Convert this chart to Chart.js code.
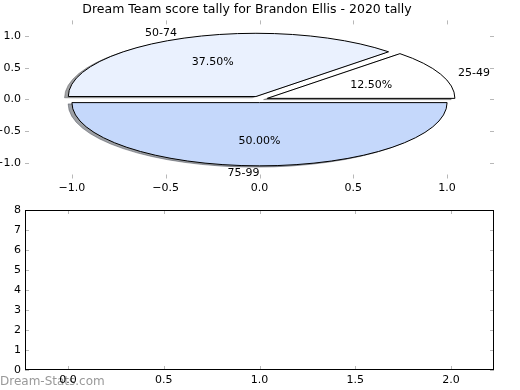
<!DOCTYPE html>
<html>
<head>
<meta charset="utf-8">
<script src="https://cdn.jsdelivr.net/npm/chart.js@4.4.0/dist/chart.umd.min.js"></script>
<style>
  html, body { margin: 0; padding: 0; background: #fff; }
  #wrap { position: relative; width: 520px; height: 390px; }
  #pieBox { position: absolute; left: 0; top: 0; width: 520px; height: 196px; }
  #emptyBox { position: absolute; left: 0; top: 196px; width: 520px; height: 194px; }
</style>
</head>
<body>
<div id="wrap">
  <div id="pieBox"><canvas id="pieChart"></canvas></div>
  <div id="emptyBox"><canvas id="emptyChart"></canvas></div>
</div>
<script>
// score bands and how many games fell in each
const categories = ["25-49", "50-74", "75-99"];
const tally = [1, 3, 4];
const explode = [0.045, 0.05, 0.05];

// tick labels
const pieTicks = [-1.0, -0.5, 0.0, 0.5, 1.0];
const lowerXTicks = [0.0, 0.5, 1.0, 1.5, 2.0];
const lowerYTicks = [0, 1, 2, 3, 4, 5, 6, 7, 8];

const sliceColors = ["#ffffff", "#eaf1fe", "#c5d8fb"];

Chart.defaults.font.family = "DejaVu Sans";
Chart.defaults.font.size = 11;
Chart.defaults.color = "#000";
Chart.defaults.animation = false;

function fmt1(v) {
    return (v < 0 ? "\u2212" : "") + Math.abs(v).toFixed(1);
}

function fixedTicks(list) {
    return function (scale) {
        scale.ticks = list.map((v) => ({ value: v }));
    };
}

// gray matplotlib style ticks pointing inwards, on all four sides
const innerTicks = {
    id: "innerTicks",
    afterDraw(chart) {
        const { ctx, chartArea: a } = chart;
        const xs = chart.scales.x;
        const ys = chart.scales.y;
        ctx.save();
        ctx.strokeStyle = "#b8b8b8";
        ctx.lineWidth = 1;
        ctx.beginPath();
        xs.ticks.forEach((t) => {
            const p = Math.round(xs.getPixelForValue(t.value)) + 0.5;
            ctx.moveTo(p, a.top);
            ctx.lineTo(p, a.top + 4);
            ctx.moveTo(p, a.bottom);
            ctx.lineTo(p, a.bottom - 4);
        });
        ys.ticks.forEach((t) => {
            const p = Math.round(ys.getPixelForValue(t.value)) + 0.5;
            ctx.moveTo(a.left, p);
            ctx.lineTo(a.left + 4, p);
            ctx.moveTo(a.right, p);
            ctx.lineTo(a.right - 4, p);
        });
        ctx.stroke();
        ctx.restore();
    },
};

// pie drawn in data space, so it comes out as an ellipse like the original
const ellipsePie = {
    id: "ellipsePie",
    beforeDatasetsDraw(chart) {
        const ctx = chart.ctx;
        const xs = chart.scales.x;
        const ys = chart.scales.y;
        const arcs = chart.getDatasetMeta(0).data;
        const total = tally.reduce((a, b) => a + b, 0);
        const px = (v) => xs.getPixelForValue(v);
        const py = (v) => ys.getPixelForValue(v);
        const rx = px(1) - px(0);
        const ry = py(0) - py(1);

        const angles = arcs.map((arc) => {
            const a1 = arc.startAngle + Math.PI / 2;
            const a2 = arc.endAngle + Math.PI / 2;
            return [a1, a2, (a1 + a2) / 2];
        });

        function wedge(i, dx, dy) {
            const [a1, a2, mid] = angles[i];
            const cx = px(explode[i] * Math.cos(mid)) + dx;
            const cy = py(explode[i] * Math.sin(mid)) + dy;
            ctx.beginPath();
            ctx.moveTo(cx, cy);
            ctx.ellipse(cx, cy, rx, ry, 0, -a1, -a2, true);
            ctx.closePath();
        }

        ctx.save();
        // shadows first
        const sdx = px(-0.02) - px(0);
        const sdy = py(-0.02) - py(0);
        arcs.forEach((arc, i) => {
            const c = Chart.helpers.color(sliceColors[i]).rgb;
            const sc = `rgba(${Math.round(c.r * 0.3)},${Math.round(c.g * 0.3)},${Math.round(c.b * 0.3)},0.5)`;
            wedge(i, sdx, sdy);
            ctx.fillStyle = sc;
            ctx.fill();
            ctx.strokeStyle = sc;
            ctx.lineWidth = 0.9;
            ctx.stroke();
        });
        arcs.forEach((arc, i) => {
            wedge(i, 0, 0);
            ctx.fillStyle = sliceColors[i];
            ctx.fill();
            ctx.strokeStyle = "#000";
            ctx.lineWidth = 1;
            ctx.stroke();
        });

        // labels
        ctx.fillStyle = "#000";
        ctx.font = "11px 'DejaVu Sans'";
        ctx.textBaseline = "middle";
        arcs.forEach((arc, i) => {
            const mid = angles[i][2];
            const ox = explode[i] * Math.cos(mid);
            const oy = explode[i] * Math.sin(mid);
            const lx = ox + 1.1 * Math.cos(mid);
            const ly = oy + 1.1 * Math.sin(mid);
            ctx.textAlign = lx > 0 ? "left" : "right";
            ctx.fillText(categories[i], px(lx), py(ly) + 1);
            ctx.textAlign = "center";
            const pct = ((tally[i] / total) * 100).toFixed(2) + "%";
            ctx.fillText(pct, px(ox + 0.6 * Math.cos(mid)), py(oy + 0.6 * Math.sin(mid)) + 1);
        });
        ctx.restore();
        return false;
    },
};

const pieChart = new Chart(document.getElementById("pieChart"), {
    type: "pie",
    data: {
        labels: categories,
        datasets: [{ data: tally, backgroundColor: sliceColors }],
    },
    options: {
        responsive: true,
        maintainAspectRatio: false,
        layout: { padding: { top: 0, left: 0, right: 26, bottom: 0 } },
        plugins: {
            legend: { display: false },
            tooltip: { enabled: false },
            title: {
                display: true,
                text: "Dream Team score tally for Brandon Ellis - 2020 tally",
                font: { size: 12.5, weight: "normal" },
                color: "#000",
                padding: { top: 2.5, bottom: 2.9 },
            },
        },
        scales: {
            x: {
                type: "linear",
                position: "bottom",
                min: -1.25,
                max: 1.25,
                grid: { display: false, drawTicks: false },
                border: { display: false },
                afterBuildTicks: fixedTicks(pieTicks),
                afterFit: (s) => { s.height = 17.5; },
                ticks: { padding: 3, callback: fmt1, maxRotation: 0 },
            },
            y: {
                type: "linear",
                position: "left",
                min: -1.25,
                max: 1.25,
                grid: { display: false, drawTicks: false },
                border: { display: false },
                afterBuildTicks: fixedTicks(pieTicks),
                afterFit: (s) => { s.width = 25; },
                ticks: { padding: 4, callback: fmt1 },
            },
        },
    },
    plugins: [ellipsePie, innerTicks],
});

const frame = {
    id: "frame",
    beforeDraw(chart) {
        const ctx = chart.ctx;
        ctx.save();
        ctx.fillStyle = "#999";
        ctx.font = "12px 'DejaVu Sans'";
        ctx.textAlign = "left";
        ctx.textBaseline = "middle";
        ctx.fillText("Dream-Stats.com", 0, chart.height - 8);
        ctx.restore();
    },
    afterDraw(chart) {
        const { ctx, chartArea: a } = chart;
        ctx.save();
        ctx.strokeStyle = "#000";
        ctx.lineWidth = 1;
        ctx.strokeRect(a.left + 0.5, a.top + 0.5, a.right - a.left - 1, a.bottom - a.top - 1);
        ctx.restore();
    },
};

const emptyChart = new Chart(document.getElementById("emptyChart"), {
    type: "scatter",
    data: { datasets: [{ data: [] }] },
    options: {
        responsive: true,
        maintainAspectRatio: false,
        layout: { padding: { top: 14, left: 0, right: 26, bottom: 0 } },
        plugins: { legend: { display: false }, tooltip: { enabled: false } },
        scales: {
            x: {
                type: "linear",
                position: "bottom",
                min: -0.225,
                max: 2.225,
                grid: { display: false, drawTicks: false },
                border: { display: false },
                afterBuildTicks: fixedTicks(lowerXTicks),
                afterFit: (s) => { s.height = 20; },
                ticks: { padding: 4, callback: fmt1, maxRotation: 0 },
            },
            y: {
                type: "linear",
                position: "left",
                min: 0,
                max: 8,
                grid: { display: false, drawTicks: false },
                border: { display: false },
                afterBuildTicks: fixedTicks(lowerYTicks),
                afterFit: (s) => { s.width = 25; },
                ticks: { padding: 4, callback: (v) => String(v) },
            },
        },
    },
    plugins: [innerTicks, frame],
});
</script>
</body>
</html>
